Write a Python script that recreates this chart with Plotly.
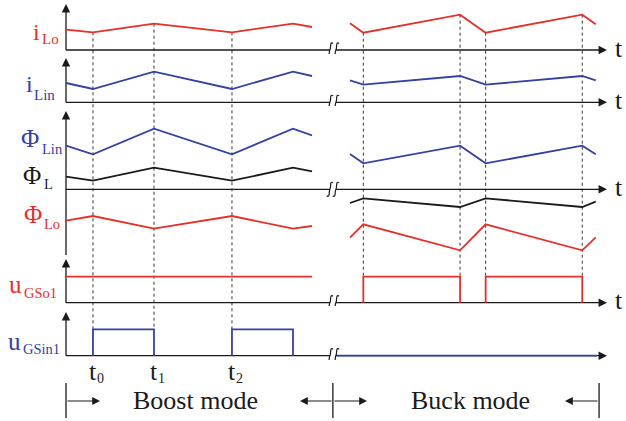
import plotly.graph_objects as go

W, H = 626, 421

# ---------------- data (time in arbitrary units, boost period = 10) ----------------
t_boost = [0.0, 1.94, 6.33, 11.94, 16.33, 17.70]      # start, t0, t1, t2, next peak, end
t_buck = [20.43, 21.39, 28.35, 30.19, 37.14, 38.11]

iLo_boost = [2.03, 1.77, 2.63, 1.77, 2.63, 2.30]
iLo_buck = [2.67, 1.73, 3.53, 1.73, 3.53, 2.57]
iLin_boost = [1.93, 1.33, 3.06, 1.33, 3.06, 2.63]
iLin_buck = [2.20, 1.76, 2.63, 1.76, 2.63, 2.20]
phiLin_boost = [4.36, 3.50, 6.06, 3.50, 6.06, 5.40]
phiLin_buck = [3.53, 2.60, 4.36, 2.60, 4.36, 3.50]
phiL_boost = [1.26, 0.86, 2.16, 0.86, 2.16, 1.80]
phiL_buck = [-1.37, -0.90, -1.77, -0.90, -1.77, -1.24]
phiLo_boost = [-3.14, -2.67, -3.94, -2.67, -3.94, -3.67]
phiLo_buck = [-4.84, -3.50, -6.10, -3.50, -6.10, -4.80]

uGSo1_level = 2.6
uGSin1_level = 2.64
uGSin1_off_span = [19.47, 38.2]   # buck mode: uGSin1 stays low

t_break = 19.2     # axis break
t_end = 38.35      # end of buck-mode span
t_arrow = 38.92    # tip of time axes

switch_labels = ["0", "1", "2"]
mode_labels = ["Boost mode", "Buck mode"]

# ---------------- styling / layout ----------------
RED = "#e3302a"
BLUE = "#3540a0"
BLACK = "#1a1a1a"
FONT = "Liberation Serif"
PXT = 13.9   # px per time unit
PXU = 10.0   # px per value unit
X0 = 66      # px of t = 0

rows = {
    1: dict(B=50.0, top=0, bot=54, tip=4),
    2: dict(B=102.3, top=54, bot=106, tip=58),
    3: dict(B=189.3, top=106, bot=258, tip=111),
    4: dict(B=302.7, top=258, bot=306, tip=259),
    5: dict(B=355.7, top=306, bot=360, tip=312),
}


def yname(k):
    return "y" if k == 1 else f"y{k}"


def yp(k, v):
    return 1 - (rows[k]["B"] - v * PXU) / H


fig = go.Figure()


def line(k, xs, ys, color, width=1.8):
    fig.add_trace(go.Scatter(x=xs, y=ys, mode="lines", yaxis=yname(k), xaxis="x",
                             line=dict(color=color, width=width), hoverinfo="skip",
                             showlegend=False))


annotations = []
shapes = []

# axes
for k, r in rows.items():
    tipv = (r["B"] - r["tip"]) / PXU
    bottomv = -(255 - r["B"]) / PXU if k == 3 else 0
    line(k, [0, 0], [bottomv, tipv - 0.4], BLACK, 1.3)
    annotations.append(dict(x=0, y=tipv, xref="x", yref=yname(k), ax=0, ay=9,
                            showarrow=True, arrowhead=2, arrowsize=1.4, arrowwidth=1.2,
                            arrowcolor=BLACK, text=""))
    line(k, [0, t_arrow - 0.5], [0, 0], BLACK, 1.3)
    annotations.append(dict(x=t_arrow, y=0, xref="x", yref=yname(k), ax=-9, ay=0,
                            showarrow=True, arrowhead=2, arrowsize=1.4, arrowwidth=1.2,
                            arrowcolor=BLACK, text=""))
    # break symbol
    shapes.append(dict(type="path", xref="x", yref=yname(k), xsizemode="pixel",
                       ysizemode="pixel", xanchor=t_break, yanchor=0,
                       path="M -3,-1.6 L 3,-1.6 L 3,1.6 L -3,1.6 Z",
                       fillcolor="white", line=dict(width=0), layer="above"))
    for cx in (-3, 3):
        shapes.append(dict(type="path", xref="x", yref=yname(k), xsizemode="pixel",
                           ysizemode="pixel", xanchor=t_break, yanchor=0,
                           path=f"M {cx+3.2},6.5 C {cx-0.5},9 {cx+1.5},2 {cx},0 C {cx-1.5},-2 {cx+0.5},-9 {cx-3.2},-6.5",
                           line=dict(color=BLACK, width=1.2), layer="above"))
    if k <= 4:
        annotations.append(dict(x=613 / W, y=1 - (r["B"] + 7 - 0.34 * 26) / H,
                                xref="paper", yref="paper", xanchor="left", yanchor="middle",
                                text="t", showarrow=False,
                                font=dict(family=FONT, size=26, color=BLACK)))

# waveforms
line(1, t_boost, iLo_boost, RED)
line(1, t_buck, iLo_buck, RED)
line(2, t_boost, iLin_boost, BLUE)
line(2, t_buck, iLin_buck, BLUE)
line(3, t_boost, phiLin_boost, BLUE)
line(3, t_buck, phiLin_buck, BLUE)
line(3, t_boost, phiL_boost, BLACK)
line(3, t_buck, phiL_buck, BLACK)
line(3, t_boost, phiLo_boost, RED)
line(3, t_buck, phiLo_buck, RED)

# gate signals
line(4, [t_boost[0], t_boost[-1]], [uGSo1_level, uGSo1_level], RED)
on1 = [(t_buck[1], t_buck[2]), (t_buck[3], t_buck[4])]
for a, b in on1:
    line(4, [a, a, b, b], [0, uGSo1_level, uGSo1_level, 0], RED)
on2 = [(t_boost[1], t_boost[2]), (t_boost[3], t_boost[4])]
for a, b in on2:
    line(5, [a, a, b, b], [0, uGSin1_level, uGSin1_level, 0], BLUE)
line(5, uGSin1_off_span, [0, 0], BLUE)

# dotted switching instants
for i in (1, 2, 3):
    shapes.append(dict(type="line", xref="x", yref="paper", x0=t_boost[i], x1=t_boost[i],
                       y0=yp(1, iLo_boost[i]), y1=yp(5, uGSin1_level),
                       line=dict(color="#333", width=1, dash="dot"), layer="below"))
for i in (1, 2, 3, 4):
    shapes.append(dict(type="line", xref="x", yref="paper", x0=t_buck[i], x1=t_buck[i],
                       y0=yp(1, iLo_buck[i]), y1=yp(4, uGSo1_level),
                       line=dict(color="#333", width=1, dash="dot"), layer="below"))


def lab(xl, base, text, size, color, anchor="left"):
    annotations.append(dict(x=xl / W, y=1 - (base - 0.34 * size) / H, xref="paper",
                            yref="paper", xanchor=anchor, yanchor="middle", text=text,
                            showarrow=False, font=dict(family=FONT, size=size, color=color)))


# signal labels
lab(31, 40, "i", 24, RED); lab(40, 44, "Lo", 15, RED)
lab(24, 92, "i", 24, BLUE); lab(32, 100.5, "Lin", 15, BLUE)
lab(19, 147, "Φ", 25, BLUE); lab(40, 154, "Lin", 14.5, BLUE)
lab(21, 184, "Φ", 25, BLACK); lab(42, 188.5, "L", 14.5, BLACK)
lab(22, 222.5, "Φ", 25, RED); lab(41.5, 229, "Lo", 14.5, RED)
lab(7, 293.3, "u", 25, RED); lab(21.5, 297.7, "GSo1", 14.5, RED)
lab(6, 350, "u", 25, BLUE); lab(20.5, 353.5, "GSin1", 14.5, BLUE)

# switching instant labels
for i, s in zip((1, 2, 3), switch_labels):
    xpx = X0 + t_boost[i] * PXT
    lab(xpx - 6, 380.7, "t", 26, BLACK)
    lab(xpx + 2, 383, s, 14, BLACK)

# mode labels
lab(195.5, 409.3, mode_labels[0], 26, BLACK, "center")
lab(470, 409.3, mode_labels[1], 26, BLACK, "center")
for tx in (0, t_break, t_end):
    shapes.append(dict(type="line", xref="x", yref="paper", x0=tx, x1=tx,
                       y0=1 - 383 / H, y1=1 - 418 / H, line=dict(color=BLACK, width=1.3)))
for tip_px, ax in ((100, -34), (300, 33), (367, -34), (565, 34)):
    annotations.append(dict(x=tip_px / W, y=1 - 401 / H, xref="paper", yref="paper",
                            ax=ax, ay=0, showarrow=True, arrowhead=2, arrowsize=1.3,
                            arrowwidth=1.2, arrowcolor=BLACK, text=""))

layout = dict(
    width=W, height=H, autosize=False,
    margin=dict(l=0, r=0, t=0, b=0, pad=0),
    paper_bgcolor="white", plot_bgcolor="white",
    showlegend=False,
    xaxis=dict(domain=[0, 1], range=[-X0 / PXT, (W - X0) / PXT], visible=False,
               fixedrange=True, anchor="y"),
    annotations=annotations, shapes=shapes,
)
for k, r in rows.items():
    key = "yaxis" if k == 1 else f"yaxis{k}"
    layout[key] = dict(domain=[1 - r["bot"] / H, 1 - r["top"] / H],
                       range=[(r["B"] - r["bot"]) / PXU, (r["B"] - r["top"]) / PXU],
                       visible=False, fixedrange=True, anchor="x")
fig.update_layout(**layout)
fig.write_html("out.html", config={"displayModeBar": False},
               post_script="document.body.style.margin='0px';document.body.style.overflow='hidden';")
